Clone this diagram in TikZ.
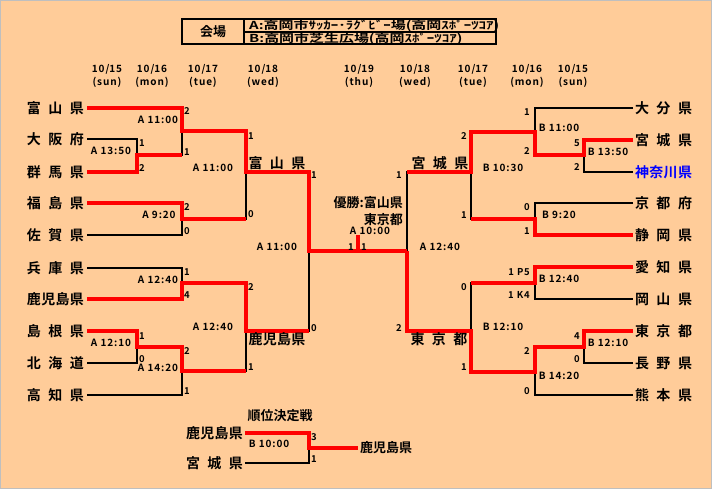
\documentclass[tikz,border=0pt]{standalone}
\usepackage{fontspec}
\setmainfont{Noto Sans CJK JP}[BoldFont={Noto Sans CJK JP Bold}]
\usepackage{tikz}
\definecolor{peach}{HTML}{FFCC99}
\definecolor{kblue}{HTML}{0000FF}
\newcommand{\pname}[1]{\makebox[57pt][s]{#1}}
\newcommand{\wide}{\addfontfeature{LetterSpace=9}}
\tikzset{
	team/.style={font=\fontsize{14}{14}\selectfont\bfseries, inner sep=0pt},
	teamL/.style={team, anchor=east, outer sep=3pt},
	teamR/.style={team, anchor=west, outer sep=2pt},
	score/.style={font=\fontsize{9.5}{10}\selectfont\bfseries\wide, inner sep=0pt},
	scoreL/.style={score, anchor=west},
	scoreR/.style={score, anchor=east},
	slot/.style={font=\fontsize{10}{10}\selectfont\bfseries\wide, inner sep=0pt},
	day/.style={font=\fontsize{10}{10}\selectfont\bfseries\wide, inner sep=0pt},
	venuetext/.style={font=\fontsize{11}{11}\selectfont\bfseries, anchor=base west, inner sep=0pt},
	win/.style={draw=red, line width=3.5pt},
	lose/.style={draw=black, line width=2pt},
}

\begin{document}
\begin{tikzpicture}[x=1pt, y=-1pt]
			%%%%% START %%%%%
			
			\fill[peach] (0,0) rectangle (712,489);
			\draw[black!25, line width=0.6pt] (0.3,0.3) rectangle (711.7,488.7);
			\useasboundingbox (0,0) rectangle (712,489);
			
			% venue box
			\draw[line width=2pt] (182,19) rectangle (496,44);
			\draw[line width=2pt] (244,19) -- (244,44);
			\draw[line width=1.5pt] (244,32) -- (496,32);
			\node[font=\fontsize{13}{13}\selectfont\bfseries] (venue) at (213,32) {会場};
			\node[venuetext] (venueA) at (249,29.4) {\scalebox{1.36}[1]{A:高岡市ｻｯｶｰ･ﾗｸﾞﾋﾞｰ場(高岡ｽﾎﾟｰﾂｺｱ)}};
			\node[venuetext] (venueB) at (249,42.3) {\scalebox{1.36}[1]{B:高岡市芝生広場(高岡ｽﾎﾟｰﾂｺｱ)}};
			
			% dates
			\foreach \x/\d/\w [count=\i] in {107/10\slash15/sun, 152/10\slash16/mon, 203/10\slash17/tue, 263/10\slash18/wed, 359/10\slash19/thu, 415/10\slash18/wed, 473/10\slash17/tue, 527/10\slash16/mon, 573/10\slash15/sun}{
				\node[day] (date\i) at (\x,69) {\d};
				\node[day] (dow\i) at (\x,82) {(\w)};
			}
			
			% teams left
			\node[teamL] (toyama) at (87,108) {\pname{富\hfil 山\hfil 県}};
			\node[teamL] (osaka) at (87,139) {\pname{大\hfil 阪\hfil 府}};
			\node[teamL] (gunma) at (87,172) {\pname{群\hfil 馬\hfil 県}};
			\node[teamL] (fukushima) at (87,203) {\pname{福\hfil 島\hfil 県}};
			\node[teamL] (saga) at (87,235) {\pname{佐\hfil 賀\hfil 県}};
			\node[teamL] (hyogo) at (87,268) {\pname{兵\hfil 庫\hfil 県}};
			\node[teamL] (kagoshima) at (87,299) {\pname{鹿\hfil 児\hfil 島\hfil 県}};
			\node[teamL] (shimane) at (87,331) {\pname{島\hfil 根\hfil 県}};
			\node[teamL] (hokkaido) at (87,363) {\pname{北\hfil 海\hfil 道}};
			\node[teamL] (kochi) at (87,395) {\pname{高\hfil 知\hfil 県}};
			
			% teams right
			\node[teamR] (oita) at (633,108) {\pname{大\hfil 分\hfil 県}};
			\node[teamR] (miyagi) at (633,140) {\pname{宮\hfil 城\hfil 県}};
			\node[teamR, text=kblue] (kanagawa) at (633,172) {\pname{神\hfil 奈\hfil 川\hfil 県}};
			\node[teamR] (kyoto) at (633,203) {\pname{京\hfil 都\hfil 府}};
			\node[teamR] (shizuoka) at (633,235) {\pname{静\hfil 岡\hfil 県}};
			\node[teamR] (aichi) at (633,267) {\pname{愛\hfil 知\hfil 県}};
			\node[teamR] (okayama) at (633,299) {\pname{岡\hfil 山\hfil 県}};
			\node[teamR] (tokyo) at (633,331) {\pname{東\hfil 京\hfil 都}};
			\node[teamR] (nagano) at (633,363) {\pname{長\hfil 野\hfil 県}};
			\node[teamR] (kumamoto) at (633,395) {\pname{熊\hfil 本\hfil 県}};
			
			% junctions
			\coordinate (m1) at (137,155);
			\coordinate (m2) at (182,131);
			\coordinate (m3) at (182,219);
			\coordinate (m4) at (246,172);
			\coordinate (m5) at (182,283);
			\coordinate (m6) at (137,347);
			\coordinate (m7) at (182,371);
			\coordinate (m8) at (246,331);
			\coordinate (fl) at (309,251);
			\coordinate (r1) at (584,155);
			\coordinate (r2) at (535,132);
			\coordinate (r3) at (535,219);
			\coordinate (r4) at (471,172);
			\coordinate (r5) at (535,283);
			\coordinate (r6) at (584,347);
			\coordinate (r7) at (535,372);
			\coordinate (r8) at (471,331);
			\coordinate (fr) at (407,251);
			\coordinate (ch) at (358,251);
			\coordinate (chtop) at (358,235);
			
			% brackets
			\draw[lose] (osaka) -| (m1) |- (gunma);
			\draw[lose] (toyama) -| (m2) |- (m1);
			\draw[lose] (fukushima) -| (m3) |- (saga);
			\draw[lose] (m2) -| (m4) |- (m3);
			\draw[lose] (hyogo) -| (m5) |- (kagoshima);
			\draw[lose] (shimane) -| (m6) |- (hokkaido);
			\draw[lose] (m6) -| (m7) |- (kochi);
			\draw[lose] (m5) -| (m8) |- (m7);
			\draw[lose] (m4) -| (fl) |- (m8);
			
			\draw[lose] (miyagi) -| (r1) |- (kanagawa);
			\draw[lose] (oita) -| (r2) |- (r1);
			\draw[lose] (kyoto) -| (r3) |- (shizuoka);
			\draw[lose] (r2) -| (r4) |- (r3);
			\draw[lose] (aichi) -| (r5) |- (okayama);
			\draw[lose] (tokyo) -| (r6) |- (nagano);
			\draw[lose] (r6) -| (r7) |- (kumamoto);
			\draw[lose] (r5) -| (r8) |- (r7);
			\draw[lose] (r4) -| (fr) |- (r8);
			
			% winners
			\draw[win] (gunma) -| (m1) -- (m1 -| m2);
			\draw[win] (fukushima) -| (m3) -- (m3 -| m4);
			\draw[win] (toyama) -| (m2) -| (m4) -| (fl) -- (fr);
			\draw[win] (shimane) -| (m6) -| (m7) -- (m7 -| m8);
			\draw[win] (kagoshima) -| (m5) -| (m8) -- (m8 -| fl);
			\draw[win] (shizuoka) -| (r3) -- (r3 -| r4);
			\draw[win] (miyagi) -| (r1) -| (r2) -| (r4) -- (r4 -| fr);
			\draw[win] (aichi) -| (r5) -- (r5 -| r8);
			\draw[win] (tokyo) -| (r6) -| (r7) -| (r8) -| (fr);
			\draw[win] (ch) -- (chtop);
			
			% semifinal winners
			\node[team] (semiTL) at (277,163) {\pname{富\hfil 山\hfil 県}};
			\node[team] (semiBL) at (277,339) {\pname{鹿\hfil 児\hfil 島\hfil 県}};
			\node[team] (semiTR) at (440,163) {\pname{宮\hfil 城\hfil 県}};
			\node[team] (semiBR) at (439,339) {\pname{東\hfil 京\hfil 都}};
			
			% champion
			\node[font=\fontsize{13}{13}\selectfont\bfseries, anchor=east, inner sep=0pt] (champ) at (403,203) {優勝:富山県};
			\node[font=\fontsize{13}{13}\selectfont\bfseries, anchor=east, inner sep=0pt] (champ2) at (403,220) {東京都};
			\node[slot] (tfinal) at (370,231) {A 10:00};
			\node[score, anchor=east] (sfl) at (354,247) {1};
			\node[score, anchor=west] (sfr) at (361,247) {1};
			
			% times
			\node[slot] (t1) at (111,151) {A 13:50};
			\node[slot] (t2) at (158,120) {A 11:00};
			\node[slot] (t3) at (159,215) {A 9:20};
			\node[slot] (t4) at (213,168) {A 11:00};
			\node[slot] (t5) at (158,280) {A 12:40};
			\node[slot] (t6) at (111,343) {A 12:10};
			\node[slot] (t7) at (158,368) {A 14:20};
			\node[slot] (t8) at (213,327) {A 12:40};
			\node[slot] (t9) at (277,247) {A 11:00};
			\node[slot] (u1) at (608,152) {B 13:50};
			\node[slot] (u2) at (559,128) {B 11:00};
			\node[slot] (u3) at (559,215) {B 9:20};
			\node[slot] (u4) at (503,168) {B 10:30};
			\node[slot] (u5) at (559,279) {B 12:40};
			\node[slot] (u6) at (608,343) {B 12:10};
			\node[slot] (u7) at (559,376) {B 14:20};
			\node[slot] (u8) at (503,327) {B 12:10};
			\node[slot] (u9) at (440,247) {A 12:40};
			
			% scores left
			\node[scoreL] (s1a) at (139,143) {1};
			\node[scoreL] (s1b) at (139,168) {2};
			\node[scoreL] (s2a) at (184,111) {2};
			\node[scoreL] (s2b) at (184,152) {1};
			\node[scoreL] (s3a) at (184,207) {2};
			\node[scoreL] (s3b) at (184,231) {0};
			\node[scoreL] (s4a) at (248,136) {1};
			\node[scoreL] (s4b) at (248,214) {0};
			\node[scoreL] (s5a) at (184,272) {1};
			\node[scoreL] (s5b) at (184,295) {4};
			\node[scoreL] (s6a) at (139,336) {1};
			\node[scoreL] (s6b) at (139,359) {0};
			\node[scoreL] (s7a) at (184,351) {2};
			\node[scoreL] (s7b) at (184,391) {1};
			\node[scoreL] (s8a) at (248,287) {2};
			\node[scoreL] (s8b) at (248,367) {1};
			\node[scoreL] (s9a) at (311,175) {1};
			\node[scoreL] (s9b) at (311,328) {0};
			
			% scores right
			\node[scoreR] (v1a) at (580,143) {5};
			\node[scoreR] (v1b) at (580,167) {2};
			\node[scoreR] (v2a) at (530,112) {1};
			\node[scoreR] (v2b) at (530,151) {2};
			\node[scoreR] (v3a) at (530,207) {0};
			\node[scoreR] (v3b) at (530,231) {1};
			\node[scoreR] (v4a) at (467,136) {2};
			\node[scoreR] (v4b) at (467,215) {1};
			\node[scoreR] (v5a) at (530,272) {1 P5};
			\node[scoreR] (v5b) at (530,295) {1 K4};
			\node[scoreR] (v6a) at (580,336) {4};
			\node[scoreR] (v6b) at (580,359) {0};
			\node[scoreR] (v7a) at (530,351) {2};
			\node[scoreR] (v7b) at (530,391) {0};
			\node[scoreR] (v8a) at (467,287) {0};
			\node[scoreR] (v8b) at (467,367) {1};
			\node[scoreR] (v9a) at (402,175) {1};
			\node[scoreR] (v9b) at (402,328) {2};
			
			% 3rd place
			\node[font=\fontsize{13}{13}\selectfont\bfseries] (third) at (280,416) {順位決定戦};
			\node[teamL, outer sep=2pt] (kagoshimaB) at (245,433) {\pname{鹿\hfil 児\hfil 島\hfil 県}};
			\node[teamL, outer sep=2pt] (miyagiB) at (245,463) {\pname{宮\hfil 城\hfil 県}};
			\node[team, anchor=west, outer sep=2pt, font=\fontsize{13}{13}\selectfont\bfseries] (kagoshimaW) at (358,448) {鹿児島県};
			\coordinate (p) at (309,448);
			\draw[lose] (kagoshimaB) -| (p) |- (miyagiB);
			\draw[win] (kagoshimaB) -| (p) -- (kagoshimaW);
			\node[slot] (w1) at (269,444) {B 10:00};
			\node[scoreL] (p1) at (311,437) {3};
			\node[scoreL] (p2) at (311,459) {1};
			
			%%%%% END %%%%%
\end{tikzpicture}
\end{document}
